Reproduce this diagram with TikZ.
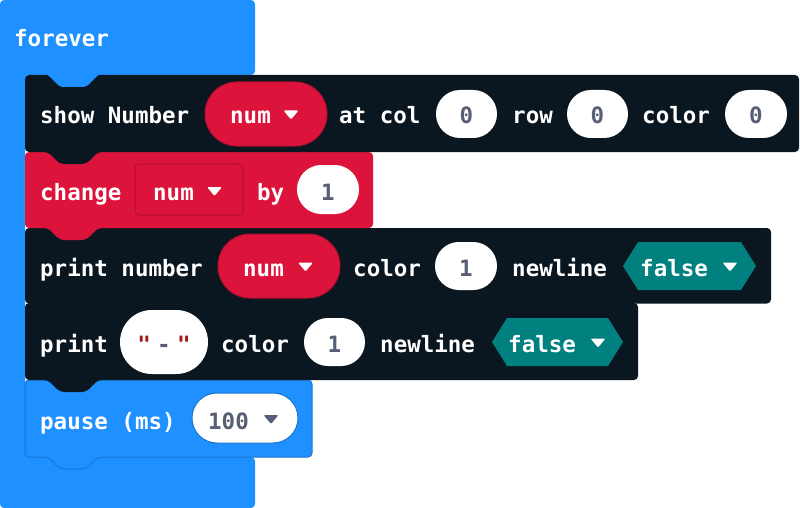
\documentclass[tikz,border=0pt]{standalone}
\usepackage{fontspec}
\setmonofont{DejaVu Sans Mono}
\usetikzlibrary{positioning}

\definecolor{blkdark}{HTML}{0B1720}
\definecolor{fvblue}{HTML}{1E90FF}
\definecolor{pauseedge}{HTML}{1A74CF}
\definecolor{varred}{HTML}{DC143C}
\definecolor{varedge}{HTML}{B30F30}
\definecolor{logicteal}{HTML}{00807F}
\definecolor{valgray}{HTML}{575E75}
\definecolor{strred}{HTML}{A31515}

\begin{document}
\begin{tikzpicture}[x=1pt,y=-1pt,
  font=\ttfamily\bfseries\fontsize{22.5}{27}\selectfont,
  lbl/.style={anchor=base west,inner sep=0,text=white},
  val/.style={anchor=base,inner sep=0,text=valgray},
  ddarrow/.pic={\fill[rounded corners=1.2] (-7.5,-4.5) -- (7.5,-4.5) -- (0,4.5) -- cycle;}]
\useasboundingbox (0,0) rectangle (800,508);

% forever block
\fill[fvblue,rounded corners=4] (0,0) -- (255,0) -- (255,75) -- (25,75) -- (25,457) -- (255,457) -- (255,508) -- (0,508) -- cycle;

% statement blocks, bottom one first so each tab lies over the block below
\filldraw[fill=fvblue,draw=pauseedge,line width=1,rounded corners=4] (25,380) -- (312,380) -- (312,457) -- (98,457) -- (86,469) -- (60,469) -- (48,457) -- (25,457) -- cycle;
\fill[blkdark,rounded corners=4] (25,303) -- (638,303) -- (638,380) -- (98,380) -- (86,392) -- (60,392) -- (48,380) -- (25,380) -- cycle;
\fill[blkdark,rounded corners=4] (25,228) -- (771,228) -- (771,303.5) -- (98,303.5) -- (86,315) -- (60,315) -- (48,303.5) -- (25,303.5) -- cycle;
\fill[varred,rounded corners=4] (25,152) -- (373,152) -- (373,228) -- (98,228) -- (86,240) -- (60,240) -- (48,228) -- (25,228) -- cycle;
\fill[blkdark,rounded corners=4] (25,75) -- (799,75) -- (799,152) -- (98,152) -- (86,164) -- (60,164) -- (48,152) -- (25,152) -- cycle;
\fill[fvblue,rounded corners=3] (44,73) -- (48,75) -- (60,87) -- (86,87) -- (98,75) -- (102,73) -- cycle;

\node[lbl] (forever) at (14,47) {forever};

% show Number
\node[lbl] (shownum) at (40,124) {show Number};
\filldraw[fill=varred,draw=varedge,line width=1,rounded corners=31.9] (205,82) rectangle (327,146);
\node[lbl] (numA) at (230,124) {num};
\pic[white] at (291,115) {ddarrow};
\node[lbl] (atcol) at (339,124) {at col};
\fill[white,rounded corners=23.9] (436,90) rectangle (497,138);
\node[val] (colval) at (466.5,124) {0};
\node[lbl] (row) at (512,124) {row};
\fill[white,rounded corners=23.9] (567,90) rectangle (628,138);
\node[val] (rowval) at (597.5,124) {0};
\node[lbl] (colorA) at (642,124) {color};
\fill[white,rounded corners=23.9] (725,90) rectangle (787,138);
\node[val] (colorvalA) at (756,124) {0};

% change
\node[lbl] (change) at (40,200) {change};
\filldraw[fill=varred,draw=varedge,line width=1,rounded corners=4] (135,164) rectangle (243,215);
\node[lbl] (numB) at (153,200) {num};
\pic[white] at (214.5,191.5) {ddarrow};
\node[lbl] (by) at (257,200) {by};
\fill[white,rounded corners=24.4] (297,165) rectangle (359,214);
\node[val] (byval) at (328,200) {1};

% print number
\node[lbl] (printnum) at (40,276) {print number};
\filldraw[fill=varred,draw=varedge,line width=1,rounded corners=31.9] (218,234) rectangle (340,298);
\node[lbl] (numC) at (243,276) {num};
\pic[white] at (305.5,267) {ddarrow};
\node[lbl] (colorB) at (353,276) {color};
\fill[white,rounded corners=23.9] (435,242) rectangle (497,290);
\node[val] (colorvalB) at (466,276) {1};
\node[lbl] (newlineA) at (512,276) {newline};
\fill[logicteal] (623,266) -- (638,242) -- (741,242) -- (756,266) -- (741,290) -- (638,290) -- cycle;
\node[lbl] (falseA) at (640,276) {false};
\pic[white] at (730,267) {ddarrow};

% print
\node[lbl] (print) at (40,352) {print};
\fill[white,rounded corners=31.9] (120,310) rectangle (208,374);
\node[val] (str) at (164,352) {\textcolor{strred}{"}\hspace{6.3pt}-\hspace{6.3pt}\textcolor{strred}{"}};
\node[lbl] (colorC) at (221,352) {color};
\fill[white,rounded corners=23.9] (304,318) rectangle (365,366);
\node[val] (colorvalC) at (334.5,352) {1};
\node[lbl] (newlineB) at (380,352) {newline};
\fill[logicteal] (492,342) -- (507,318) -- (608,318) -- (623,342) -- (608,366) -- (507,366) -- cycle;
\node[lbl] (falseB) at (508,352) {false};
\pic[white] at (598,343) {ddarrow};

% pause
\node[lbl] (pause) at (40,429) {pause (ms)};
\filldraw[fill=white,draw=pauseedge,line width=1,rounded corners=24.9] (192,393) rectangle (298,443);
\node[val,anchor=base west] (pauseval) at (208,429) {100};
\pic[valgray] at (271,419.5) {ddarrow};
\end{tikzpicture}
\end{document}
